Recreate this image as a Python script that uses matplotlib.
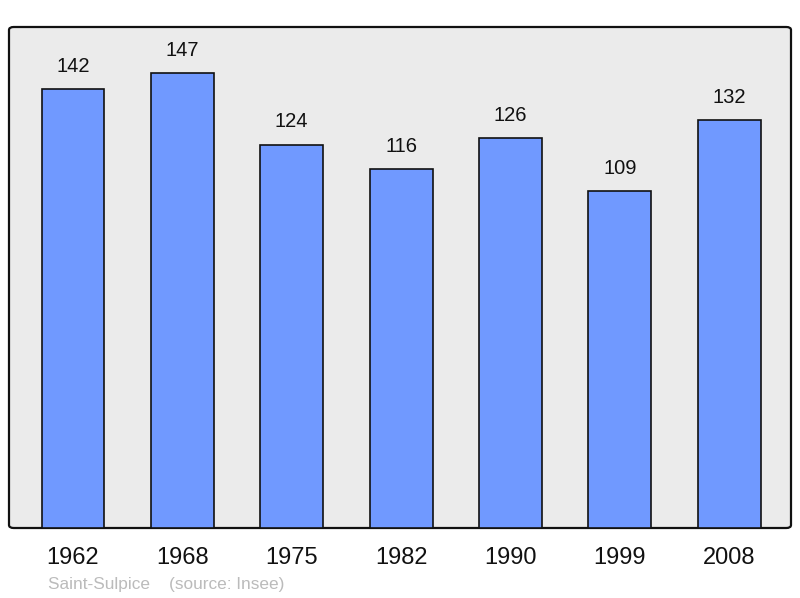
import matplotlib.pyplot as plt
from matplotlib.patches import FancyBboxPatch

years = ['1962', '1968', '1975', '1982', '1990', '1999', '2008']
population = [142, 147, 124, 116, 126, 109, 132]

plt.rcParams['font.family'] = ['Liberation Sans', 'DejaVu Sans']

fig = plt.figure(figsize=(8, 5.98), dpi=100)
ax = fig.add_axes([9/800, 70/598, 782/800, 501/598])
ax.patch.set_visible(False)
for s in ax.spines.values():
    s.set_visible(False)

# rounded frame
frame = FancyBboxPatch((0, 0), 1, 1, boxstyle='round,pad=0,rounding_size=0.006',
                       transform=ax.transAxes, facecolor='#ebebeb',
                       edgecolor='#111111', linewidth=1.6, zorder=0, clip_on=False)
ax.add_patch(frame)

x = list(range(len(years)))
bars = ax.bar(x, population, width=0.575, color='#7099ff',
              edgecolor='#111111', linewidth=1.2, zorder=2)

for b, v in zip(bars, population):
    ax.annotate(str(v), (b.get_x() + b.get_width()/2, b.get_height()),
                xytext=(0, 9.5), textcoords='offset points',
                ha='center', va='bottom', fontsize=14.5, color='#111111')

ax.set_xlim(-0.585, 6.565)
ax.set_ylim(0, 162)
ax.set_yticks([])
ax.set_xticks(x)
ax.set_xticklabels(years, fontsize=17, color='#111111')
ax.tick_params(axis='x', length=0, pad=14)

fig.text(48/800, 1 - 584/598, 'Saint-Sulpice    (source: Insee)',
         fontsize=12.4, color='#bbbbbb', ha='left', va='center')

fig.savefig('out.png', dpi=100)
